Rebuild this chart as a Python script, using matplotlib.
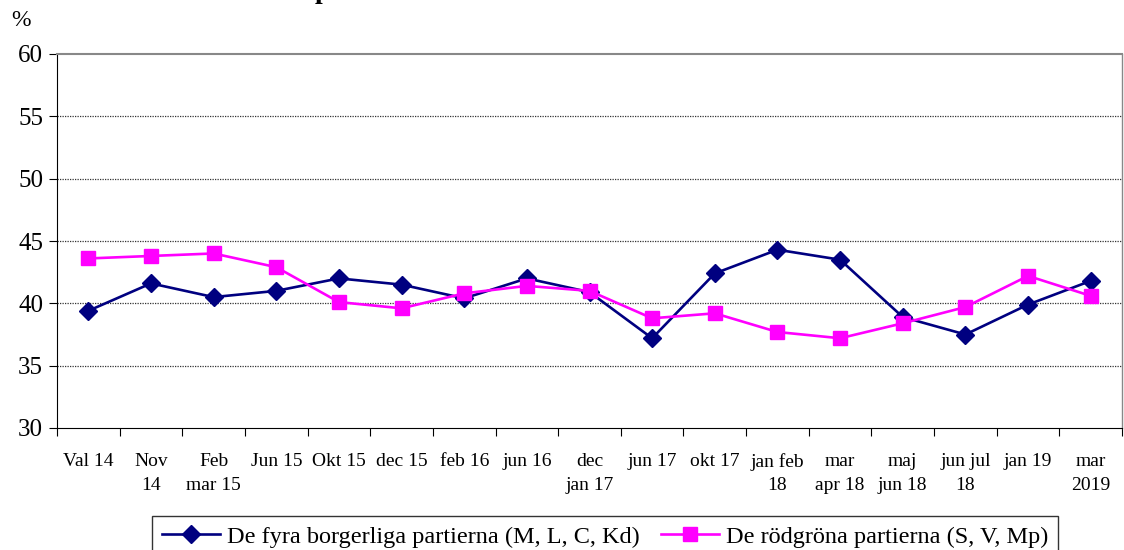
import numpy as np
import matplotlib.pyplot as plt

# survey rounds
labels = ["Val 14", "Nov\n14", "Feb\nmar 15", "Jun 15", "Okt 15", "dec 15", "feb 16",
          "jun 16", "dec\njan 17", "jun 17", "okt 17", "jan feb\n18", "mar\napr 18",
          "maj\njun 18", "jun jul\n18", "jan 19", "mar\n2019"]
# De fyra borgerliga partierna
borgerliga = [39.4, 41.6, 40.5, 41.0, 42.0, 41.5, 40.4, 42.0, 40.9, 37.2, 42.4,
              44.3, 43.5, 38.9, 37.5, 39.9, 41.8]
# De rödgröna partierna
rodgrona = [43.6, 43.8, 44.0, 42.9, 40.1, 39.6, 40.8, 41.4, 41.0, 38.8, 39.2,
            37.7, 37.2, 38.4, 39.7, 42.2, 40.6]

plt.rcParams['font.family'] = ['Liberation Serif', 'DejaVu Serif']

fig = plt.figure(figsize=(11.24, 5.5), dpi=100)
ax = fig.add_axes([57/1124, 1-428/550, (1122-57)/1124, (428-54)/550])

x = np.arange(len(labels))
ax.plot(x, borgerliga, color='#000080', lw=1.9, marker='D', markersize=9,
        label='De fyra borgerliga partierna (M, L, C, Kd)')
ax.plot(x, rodgrona, color='#FF00FF', lw=1.9, marker='s', markersize=10.5,
        label='De rödgröna partierna (S, V, Mp)')

ax.set_xlim(-0.5, len(labels) - 0.5)
ax.set_ylim(30, 60)
ax.set_yticks(np.arange(30, 61, 5))
ax.set_xticks(np.arange(-0.5, len(labels), 1))
ax.set_xticklabels([])
ax.set_xticks(x, minor=True)
ax.set_xticklabels(labels, minor=True, fontsize=14, linespacing=1.5, va='top')
ax.tick_params(axis='x', which='minor', length=0, pad=18)
ax.tick_params(axis='x', which='major', length=6, direction='out')
ax.tick_params(axis='y', labelsize=18, length=6, direction='out', pad=4)

for v in range(35, 60, 5):
    ax.axhline(v, color='#333333', lw=0.9, ls=(0, (1, 1)), zorder=0)

ax.spines['top'].set_color('#888888')
ax.spines['right'].set_color('#888888')
ax.spines['top'].set_linewidth(1.5)
ax.spines['right'].set_linewidth(1.0)

fig.text(11/1124, 1-20/550, '%', fontsize=17, va='center')
# only the descender of the title is visible
fig.text(322/1124, 1+2/550, 'p', fontsize=20, fontweight='bold', ha='center', va='baseline')

leg = fig.legend(loc='upper center', bbox_to_anchor=(605/1124, 1-516/550), ncol=2,
                 fontsize=17.5, frameon=True, fancybox=False, handlelength=2.4,
                 columnspacing=0.9, handletextpad=0.25, borderpad=0.4, borderaxespad=0)
leg.get_frame().set_edgecolor('black')
leg.get_frame().set_linewidth(1.0)

fig.savefig('out.png', dpi=100)
